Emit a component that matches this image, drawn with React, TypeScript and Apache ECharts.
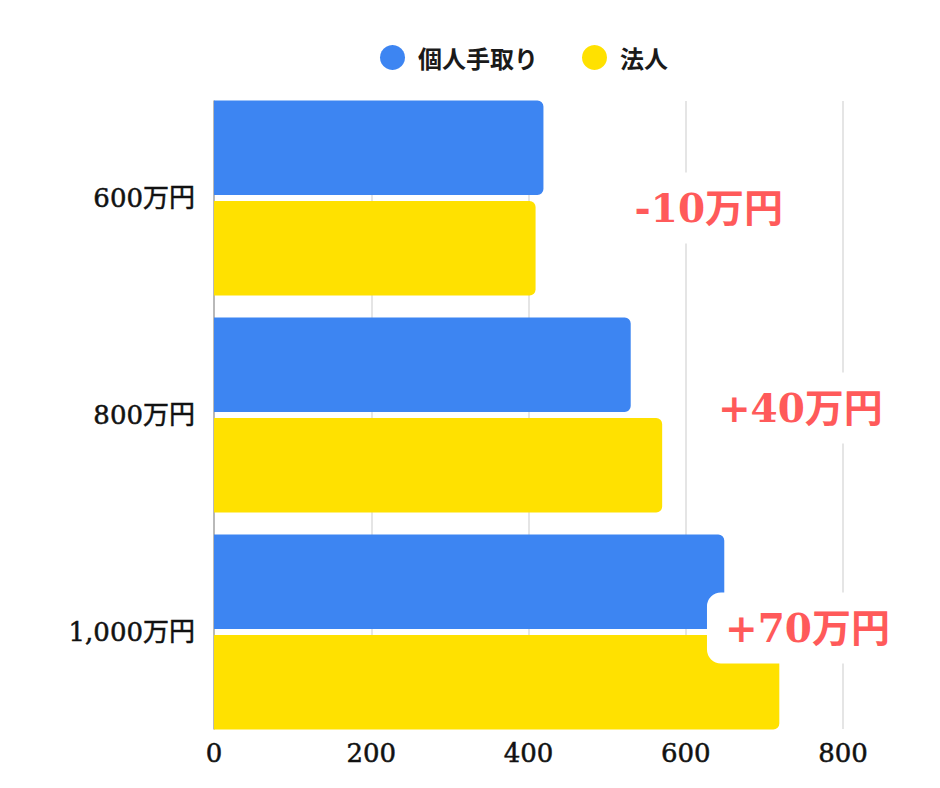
import { useEffect, useRef } from 'react';
import * as echarts from 'echarts';

// 年収帯
const categories = ['600万円', '800万円', '1,000万円'];
// 手取り（万円）
const personalNet = [419, 530, 649];
const corporateNet = [409, 570, 719];
// 差額ラベルの位置（x 軸の値）
const noteAnchor = [512, 618, 627];
const xTicks = [0, 200, 400, 600, 800];

const BLUE = '#3d85f2';
const YELLOW = '#ffe100';
const RED = '#ff5a5a';
const SERIF = "'DejaVu Serif', 'Noto Sans CJK JP', serif";

const App = () => {
  const chartRef = useRef<HTMLDivElement>(null);

  useEffect(() => {
    document.body.style.margin = '0';
    if (!chartRef.current) return;
    const chart = echarts.init(chartRef.current, undefined, { renderer: 'svg' });

    const diffs = corporateNet.map((v, i) => v - personalNet[i]);
    const noteOffsets = [[0, 10], [0, -7], [0, -4]];

    const tickLabel = {
      fontFamily: SERIF,
      fontSize: 26,
      color: '#111',
      textBorderColor: '#111',
      textBorderWidth: 0.5,
    };

    chart.setOption({
      animation: false,
      legend: {
        left: 375,
        top: 40,
        icon: 'circle',
        itemWidth: 25,
        itemHeight: 25,
        itemGap: 44,
        data: ['個人手取り', '法人'],
        textStyle: {
          fontFamily: "'Noto Sans CJK JP', sans-serif",
          fontWeight: 'bold',
          fontSize: 24,
          color: '#1a1a1a',
          padding: [0, 0, 0, 8],
        },
      },
      grid: [
        { left: 214, right: 97, top: 89.5, bottom: 47.5 },
        { left: 214, right: 97, top: 101, bottom: 59 },
      ],
      xAxis: [
        {
          gridIndex: 0,
          type: 'value',
          min: xTicks[0],
          max: xTicks[xTicks.length - 1],
          interval: 200,
          axisLabel: { show: false },
          axisLine: { show: false },
          axisTick: { show: false },
          splitLine: { show: false },
        },
        {
          gridIndex: 1,
          type: 'value',
          min: xTicks[0],
          max: xTicks[xTicks.length - 1],
          interval: 200,
          axisLine: { show: false },
          axisTick: { show: false },
          axisLabel: { margin: 11, ...tickLabel },
          splitLine: { show: true, lineStyle: { color: '#dddddd', width: 1.5 } },
        },
      ],
      yAxis: [
        {
          gridIndex: 0,
          type: 'category',
          inverse: true,
          data: categories,
          axisLine: { show: false },
          axisTick: { show: false },
          axisLabel: { margin: 19, ...tickLabel },
        },
        {
          gridIndex: 1,
          type: 'category',
          inverse: true,
          data: categories,
          axisLine: { show: true, lineStyle: { color: '#aaaaaa', width: 1.5 } },
          axisTick: { show: false },
          axisLabel: { show: false },
        },
      ],
      series: [
        {
          name: '個人手取り',
          type: 'bar',
          xAxisIndex: 0,
          yAxisIndex: 0,
          data: personalNet,
          barWidth: 94.5,
          barGap: '6.4%',
          itemStyle: { color: BLUE, borderRadius: [0, 6, 6, 0] },
        },
        {
          name: '法人',
          type: 'bar',
          xAxisIndex: 0,
          yAxisIndex: 0,
          data: corporateNet,
          barWidth: 94.5,
          barGap: '6.4%',
          itemStyle: { color: YELLOW, borderRadius: [0, 6, 6, 0] },
        },
        {
          type: 'scatter',
          xAxisIndex: 0,
          yAxisIndex: 0,
          symbolSize: 0,
          z: 10,
          silent: true,
          itemStyle: { opacity: 1 },
          data: noteAnchor.map((x, i) => ({
            value: [x, i],
            label: { offset: noteOffsets[i] },
          })),
          label: {
            show: true,
            position: 'right',
            distance: 0,
            formatter: (p: any) => {
              const d = diffs[p.dataIndex];
              return `${d > 0 ? '+' : ''}${d}万円`;
            },
            backgroundColor: '#ffffff',
            borderRadius: 14,
            padding: [16, 18],
            fontFamily: SERIF,
            fontWeight: 'bold',
            fontSize: 39,
            color: RED,
          },
        },
      ],
    });

    return () => {
      chart.dispose();
    };
  }, []);

  return <div ref={chartRef} style={{ width: 940, height: 788 }} />;
};

export default App;
